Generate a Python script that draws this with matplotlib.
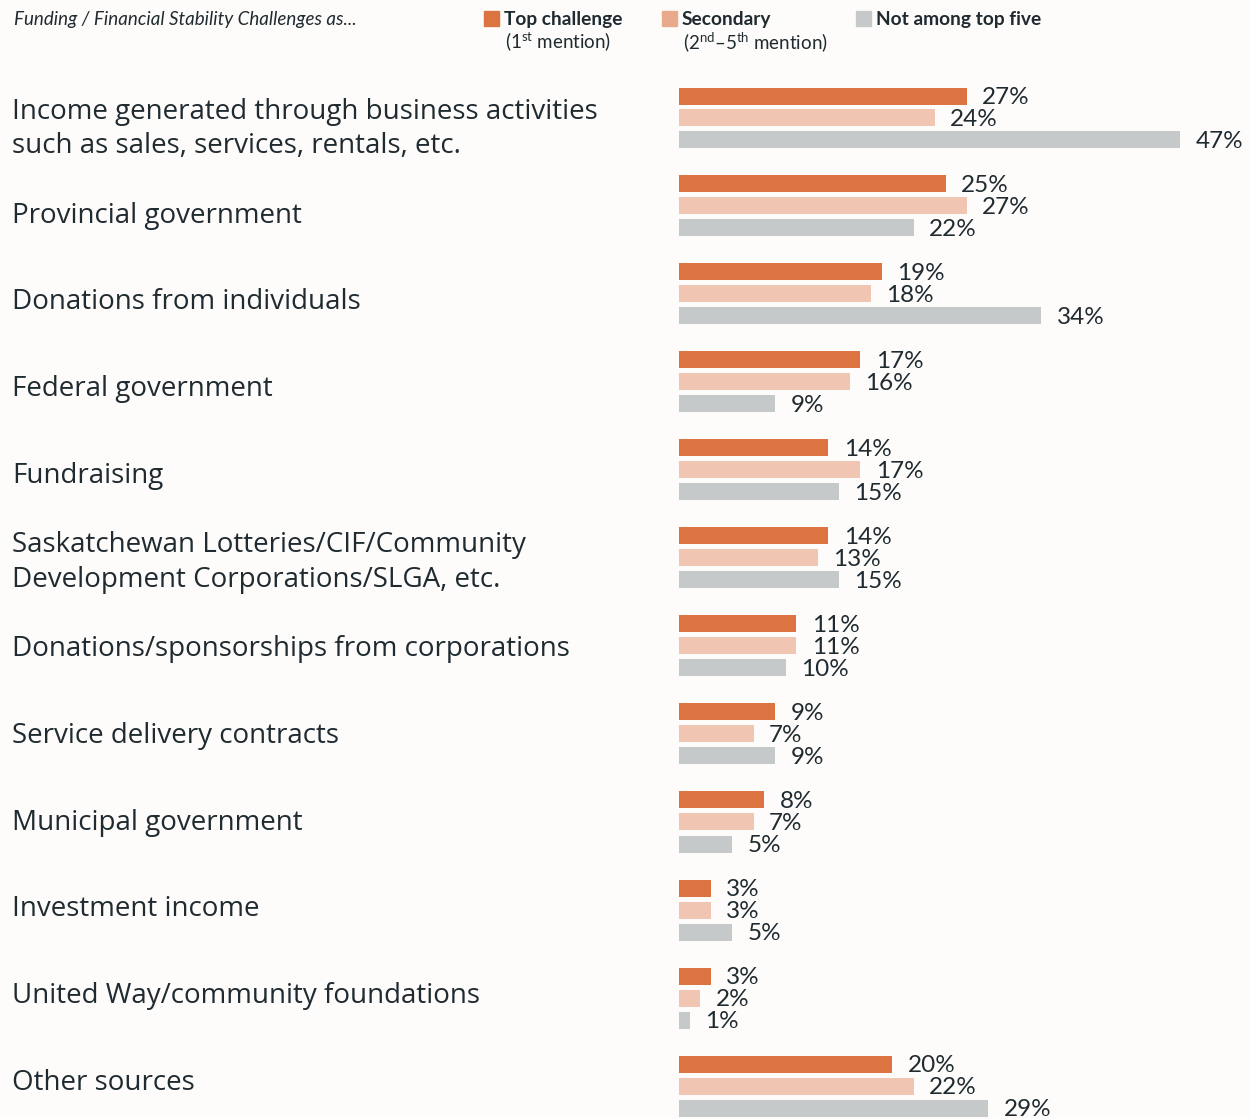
import numpy as np
import matplotlib.pyplot as plt

plt.rcParams['font.family'] = ['Lato', 'DejaVu Sans']
plt.rcParams['mathtext.fontset'] = 'custom'
plt.rcParams['mathtext.rm'] = 'Lato'
plt.rcParams['mathtext.it'] = 'Lato:italic'

categories = [
    "Income generated through business activities\nsuch as sales, services, rentals, etc.",
    "Provincial government",
    "Donations from individuals",
    "Federal government",
    "Fundraising",
    "Saskatchewan Lotteries/CIF/Community\nDevelopment Corporations/SLGA, etc.",
    "Donations/sponsorships from corporations",
    "Service delivery contracts",
    "Municipal government",
    "Investment income",
    "United Way/community foundations",
    "Other sources",
]
top = [27, 25, 19, 17, 14, 14, 11, 9, 8, 3, 3, 20]
secondary = [24, 27, 18, 16, 17, 13, 11, 7, 7, 3, 2, 22]
not_top = [47, 22, 34, 9, 15, 15, 10, 9, 5, 5, 1, 29]

c_top = '#DB7440'
c_sec = '#F0C5B1'
c_not = '#C5C9C9'
c_sec_leg = '#E9AA8B'
txt = '#1F2B31'
bg = '#FEFCFA'

W, H = 1250, 1119
fig = plt.figure(figsize=(W / 100, H / 100), dpi=100)
fig.patch.set_facecolor(bg)

# axes covering bar area: x from 679 px to right edge, full height
x0 = 679
ppu = 10.66  # pixels per percent
ax = fig.add_axes([x0 / W, 0, 1 - x0 / W, 1])
ax.set_facecolor('none')
ax.set_xlim(0, (W - x0) / ppu)
gap = 88.0
c0 = 118.0
ax.set_ylim((H - c0) / gap, -c0 / gap)
ax.axis('off')

y = np.arange(len(categories))
off = 22 / gap
h = 17 / gap
ax.barh(y - off, top, height=h, color=c_top)
ax.barh(y, secondary, height=h, color=c_sec)
ax.barh(y + off, not_top, height=h, color=c_not)

for i in range(len(categories)):
    for v, yy in [(top[i], y[i] - off), (secondary[i], y[i]), (not_top[i], y[i] + off)]:
        ax.text(v + 1.45, yy + 0.02, f"{v}%", va='center', ha='left',
                fontsize=17.5, color=txt)

# category labels in figure pixel coords (slightly tighter spacing than bars)
for i, cat in enumerate(categories):
    yc = 129 + i * 86.7
    fig.text(12 / W, 1 - yc / H, cat, ha='left', va='center', fontsize=20,
             color=txt, linespacing=1.33, family=['Open Sans', 'DejaVu Sans'])

# header / legend
fig.text(14 / W, 1 - 19 / H, "Funding / Financial Stability Challenges as...",
         fontsize=13.5, style='italic', color=txt, va='center', ha='left')

leg = [(484, c_top, "Top challenge", r"(1$^{\mathrm{st}}$ mention)"),
       (662, c_sec_leg, "Secondary", r"(2$^{\mathrm{nd}}$–5$^{\mathrm{th}}$ mention)"),
       (856, c_not, "Not among top five", None)]
for xp, col, lab, sub in leg:
    fig.patches.append(plt.Rectangle((xp / W, 1 - 26 / H), 15 / W, 15 / H,
                                     transform=fig.transFigure, color=col))
    fig.text((xp + 20) / W, 1 - 19 / H, lab, fontsize=13.8, fontweight='bold',
             color=txt, va='center', ha='left')
    if sub:
        fig.text((xp + 21) / W, 1 - 42 / H, sub, fontsize=13.5, color=txt,
                 va='center', ha='left')

fig.savefig('out.png', dpi=100, facecolor=bg)
